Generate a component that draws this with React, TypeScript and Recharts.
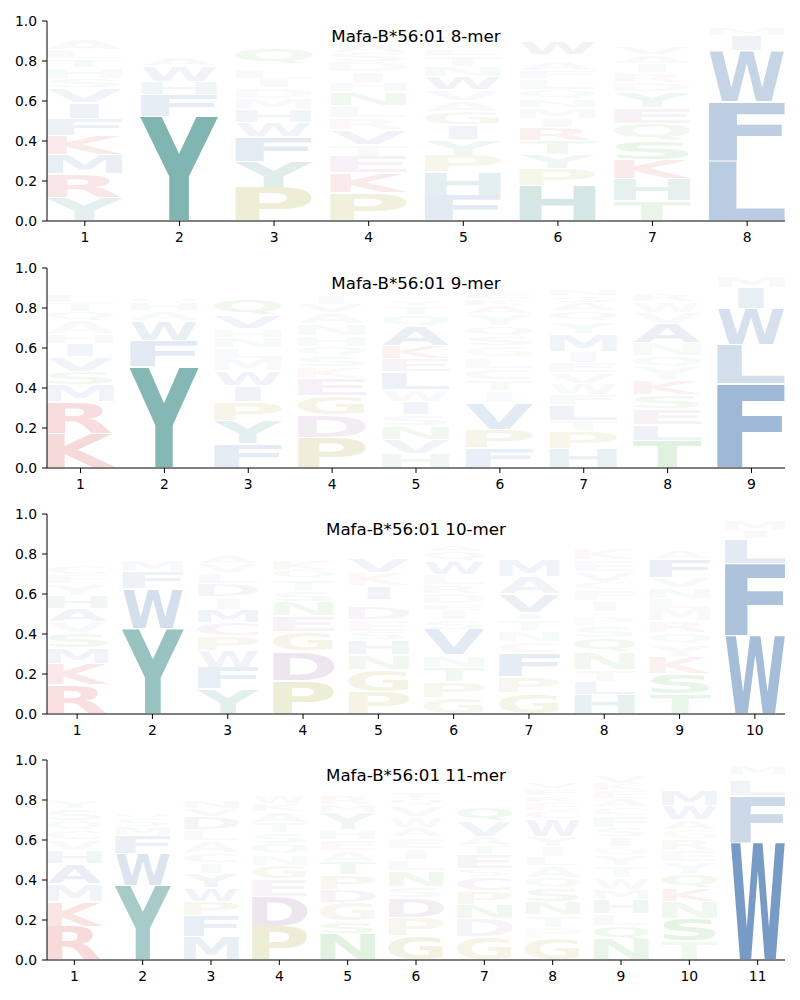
import React from 'react';
import { BarChart, Bar, XAxis, YAxis } from 'recharts';

// letter stacks per position, bottom to top: [letter, height]
const mer8: [string, number][][] = [
  [['Y', .11], ['R', .11], ['M', .09], ['K', .09], ['F', .08], ['I', .075], ['V', .07], ['S', .045], ['H', .05], ['T', .04], ['L', .045], ['A', .05], ['E', .025], ['Q', .02], ['W', .02], ['N', .02]],
  [['Y', .49], ['F', .105], ['H', .06], ['W', .075], ['A', .04], ['Q', .03], ['S', .03], ['N', .025], ['G', .025], ['L', .02], ['T', .02], ['E', .02]],
  [['P', .155], ['Y', .12], ['F', .115], ['W', .065], ['H', .06], ['M', .055], ['D', .05], ['I', .04], ['L', .04], ['S', .03], ['Q', .075], ['V', .03], ['A', .03], ['N', .025], ['E', .02], ['T', .02]],
  [['P', .125], ['K', .09], ['E', .075], ['T', .055], ['V', .065], ['R', .055], ['L', .055], ['N', .06], ['H', .04], ['I', .05], ['D', .045], ['S', .04], ['A', .04], ['Q', .03], ['G', .03], ['F', .025], ['W', .02]],
  [['F', .115], ['H', .105], ['P', .075], ['Y', .07], ['I', .065], ['G', .06], ['A', .05], ['V', .05], ['W', .06], ['N', .045], ['T', .05], ['L', .03], ['Q', .03], ['S', .03], ['E', .025], ['K', .02], ['M', .02]],
  [['H', .165], ['P', .08], ['Y', .065], ['T', .065], ['R', .06], ['I', .045], ['M', .05], ['N', .04], ['Q', .045], ['L', .05], ['F', .035], ['A', .045], ['K', .03], ['W', .06], ['S', .03], ['E', .025], ['V', .025], ['G', .02]],
  [['T', .095], ['H', .105], ['K', .09], ['S', .09], ['Q', .08], ['E', .075], ['Y', .075], ['D', .045], ['R', .045], ['I', .045], ['A', .04], ['V', .035], ['N', .03], ['L', .03], ['W', .025], ['F', .02], ['M', .02]],
  [['L', .29], ['F', .28], ['W', .245], ['I', .075], ['M', .035], ['Y', .02], ['V', .015]],
];

const mer9: [string, number][][] = [
  [['K', .165], ['R', .15], ['M', .08], ['S', .065], ['V', .07], ['I', .065], ['H', .045], ['A', .06], ['Q', .045], ['T', .045], ['L', .04], ['E', .03], ['N', .03], ['F', .025], ['W', .02], ['Y', .02]],
  [['Y', .515], ['F', .135], ['W', .1], ['A', .05], ['H', .04], ['Q', .035], ['N', .03], ['S', .03], ['L', .025], ['M', .02], ['T', .02], ['E', .02]],
  [['F', .115], ['Y', .11], ['P', .09], ['I', .075], ['W', .07], ['M', .06], ['L', .05], ['N', .05], ['H', .04], ['V', .065], ['Q', .08], ['A', .03], ['E', .03], ['S', .025], ['T', .02], ['D', .02], ['G', .02]],
  [['P', .14], ['D', .105], ['G', .09], ['E', .08], ['K', .055], ['S', .05], ['Q', .045], ['H', .05], ['N', .055], ['A', .05], ['V', .04], ['I', .045], ['T', .03], ['L', .03], ['Y', .025], ['F', .02], ['W', .02]],
  [['H', .07], ['V', .07], ['N', .065], ['S', .055], ['I', .065], ['W', .06], ['L', .085], ['E', .065], ['K', .065], ['A', .095], ['Q', .055], ['T', .04], ['Y', .035], ['M', .03], ['F', .03], ['G', .03], ['R', .025], ['D', .02], ['P', .02]],
  [['F', .1], ['P', .09], ['V', .13], ['I', .06], ['T', .055], ['C', .055], ['L', .055], ['G', .055], ['S', .05], ['Q', .05], ['Y', .06], ['A', .04], ['K', .035], ['E', .035], ['N', .03], ['H', .025], ['M', .02], ['W', .02], ['R', .02]],
  [['H', .095], ['P', .085], ['T', .05], ['L', .075], ['F', .05], ['W', .055], ['V', .05], ['E', .05], ['I', .055], ['M', .085], ['Y', .06], ['Q', .05], ['A', .04], ['S', .035], ['N', .035], ['K', .03], ['G', .03], ['R', .02], ['D', .02]],
  [['T', .13], ['L', .075], ['E', .075], ['S', .065], ['K', .07], ['Y', .06], ['Q', .055], ['N', .06], ['A', .09], ['V', .055], ['W', .05], ['R', .035], ['I', .03], ['F', .03], ['H', .025], ['M', .02], ['G', .02]],
  [['F', .405], ['L', .19], ['W', .175], ['I', .1], ['M', .06], ['Y', .02], ['V', .015]],
];

const mer10: [string, number][][] = [
  [['R', .135], ['K', .1], ['M', .075], ['S', .07], ['V', .055], ['A', .06], ['H', .06], ['Y', .055], ['E', .045], ['C', .045], ['T', .03], ['I', .03], ['L', .03], ['Q', .03], ['N', .03], ['F', .025], ['W', .025], ['G', .02], ['D', .02]],
  [['Y', .42], ['W', .195], ['F', .085], ['M', .06], ['Q', .03], ['A', .03], ['H', .03], ['S', .025], ['N', .025], ['L', .025], ['T', .02], ['E', .02], ['G', .02]],
  [['Y', .12], ['F', .105], ['W', .08], ['P', .07], ['C', .065], ['M', .065], ['I', .06], ['D', .065], ['L', .05], ['V', .045], ['A', .04], ['Q', .03], ['E', .03], ['S', .03], ['N', .025], ['H', .025], ['T', .02], ['K', .02], ['R', .02]],
  [['P', .165], ['D', .145], ['G', .095], ['E', .08], ['N', .07], ['S', .055], ['T', .055], ['Q', .045], ['K', .05], ['A', .03], ['H', .03], ['L', .03], ['V', .03], ['I', .025], ['M', .025], ['W', .02], ['F', .02], ['R', .02]],
  [['P', .105], ['G', .105], ['N', .07], ['H', .07], ['S', .04], ['E', .055], ['D', .065], ['A', .03], ['I', .065], ['K', .06], ['V', .07], ['Q', .03], ['T', .03], ['L', .03], ['F', .03], ['W', .025], ['M', .025], ['Y', .02], ['R', .02]],
  [['G', .08], ['P', .075], ['T', .07], ['N', .06], ['V', .125], ['S', .045], ['I', .045], ['E', .035], ['D', .05], ['R', .04], ['L', .05], ['W', .065], ['Q', .045], ['A', .035], ['K', .03], ['H', .03], ['F', .025], ['M', .025], ['Y', .02], ['C', .02]],
  [['G', .105], ['P', .08], ['F', .12], ['C', .055], ['N', .055], ['T', .055], ['I', .035], ['V', .095], ['A', .085], ['M', .085], ['W', .03], ['Q', .03], ['H', .03], ['S', .03], ['L', .025], ['E', .025], ['R', .02], ['K', .02], ['Y', .02]],
  [['H', .09], ['L', .06], ['T', .055], ['N', .08], ['Q', .07], ['S', .055], ['P', .045], ['W', .02], ['I', .05], ['F', .05], ['C', .04], ['V', .045], ['E', .055], ['K', .055], ['A', .03], ['M', .03], ['Y', .03], ['R', .025], ['G', .025], ['D', .02]],
  [['T', .095], ['S', .1], ['K', .08], ['Y', .06], ['Q', .055], ['R', .055], ['M', .06], ['L', .05], ['N', .05], ['V', .05], ['F', .09], ['A', .04], ['E', .03], ['I', .03], ['W', .03], ['H', .025], ['G', .02], ['D', .02], ['P', .02]],
  [['W', .375], ['F', .34], ['L', .12], ['I', .04], ['M', .05], ['Y', .015], ['V', .015]],
];

const mer11: [string, number][][] = [
  [['R', .165], ['K', .125], ['M', .085], ['A', .1], ['H', .065], ['V', .055], ['C', .045], ['Q', .05], ['S', .06], ['Y', .04], ['N', .03], ['I', .03], ['T', .03], ['L', .025], ['E', .025], ['F', .02], ['W', .02], ['G', .02]],
  [['Y', .365], ['W', .16], ['F', .09], ['M', .045], ['S', .04], ['Q', .035], ['A', .03], ['H', .03], ['N', .03], ['L', .03], ['K', .025], ['T', .025], ['E', .025], ['I', .02], ['G', .02], ['V', .02]],
  [['M', .115], ['F', .105], ['P', .07], ['W', .065], ['Y', .07], ['I', .055], ['C', .05], ['A', .06], ['L', .055], ['D', .065], ['V', .04], ['N', .04], ['E', .03], ['S', .03], ['Q', .03], ['H', .025], ['T', .025], ['K', .02], ['R', .02], ['G', .02]],
  [['P', .165], ['D', .15], ['E', .085], ['G', .065], ['N', .055], ['Q', .055], ['S', .055], ['T', .05], ['A', .055], ['K', .04], ['W', .04], ['V', .03], ['I', .03], ['L', .03], ['H', .025], ['M', .02], ['Y', .02], ['F', .02]],
  [['N', .13], ['S', .065], ['G', .095], ['D', .065], ['P', .075], ['T', .065], ['A', .055], ['E', .055], ['H', .055], ['Y', .085], ['M', .04], ['R', .045], ['Q', .03], ['L', .03], ['I', .03], ['V', .025], ['K', .025], ['W', .02], ['F', .02]],
  [['G', .12], ['P', .09], ['D', .095], ['S', .055], ['N', .08], ['L', .055], ['I', .055], ['E', .055], ['A', .045], ['W', .055], ['V', .055], ['Q', .035], ['T', .035], ['K', .03], ['Y', .03], ['H', .025], ['M', .025], ['R', .025], ['F', .02]],
  [['G', .115], ['D', .09], ['N', .07], ['P', .065], ['C', .07], ['S', .04], ['E', .07], ['T', .045], ['A', .045], ['V', .075], ['Q', .07], ['K', .03], ['Y', .03], ['L', .03], ['I', .03], ['H', .025], ['W', .025], ['R', .025], ['M', .02], ['F', .02]],
  [['G', .105], ['P', .055], ['T', .06], ['N', .065], ['S', .065], ['Q', .055], ['A', .055], ['L', .045], ['I', .05], ['Y', .05], ['W', .085], ['C', .04], ['E', .04], ['R', .035], ['F', .035], ['V', .035], ['H', .03], ['K', .03], ['M', .025], ['D', .02]],
  [['N', .095], ['Q', .065], ['L', .055], ['H', .065], ['M', .05], ['W', .055], ['T', .055], ['Y', .05], ['G', .04], ['I', .045], ['S', .045], ['F', .055], ['C', .04], ['A', .04], ['E', .035], ['K', .035], ['V', .035], ['R', .03], ['P', .025], ['D', .02]],
  [['T', .09], ['S', .11], ['N', .085], ['K', .065], ['Q', .07], ['Y', .06], ['E', .055], ['R', .06], ['G', .045], ['A', .045], ['W', .07], ['M', .075], ['I', .03], ['L', .03], ['F', .025], ['H', .025], ['V', .02], ['D', .02]],
  [['W', .57], ['F', .225], ['L', .075], ['I', .03], ['M', .045], ['Y', .015], ['V', .01]],
];

const titles = ['Mafa-B*56:01 8-mer', 'Mafa-B*56:01 9-mer', 'Mafa-B*56:01 10-mer', 'Mafa-B*56:01 11-mer'];
const yTicks = [0, 0.2, 0.4, 0.6, 0.8, 1.0];

const COLORS: Record<string, string> = {
  Y: '#0d736b', H: '#0d736b',
  F: '#1a569d', W: '#1a569d', L: '#1a569d', M: '#1a569d', I: '#1a569d', V: '#1a569d', A: '#1a569d',
  K: '#cc1f1f', R: '#cc1f1f',
  P: '#968c00', G: '#968c00',
  D: '#82508c', E: '#82508c',
  N: '#149614', Q: '#149614', S: '#149614', T: '#149614',
  C: '#b03060',
};

// approximate ink box of DejaVu Sans Bold capitals, in em: [left, right, bottom, top]
const INK: Record<string, number[]> = {
  A: [0.005, 0.77, 0, 0.729], C: [0.055, 0.675, -0.014, 0.743], D: [0.092, 0.77, 0, 0.729],
  E: [0.092, 0.605, 0, 0.729], F: [0.092, 0.6, 0, 0.729], G: [0.055, 0.76, -0.014, 0.743],
  H: [0.092, 0.745, 0, 0.729], I: [0.092, 0.28, 0, 0.729], K: [0.092, 0.79, 0, 0.729],
  L: [0.092, 0.61, 0, 0.729], M: [0.092, 0.903, 0, 0.729], N: [0.092, 0.745, 0, 0.729],
  P: [0.092, 0.69, 0, 0.729], Q: [0.055, 0.795, -0.17, 0.743], R: [0.092, 0.77, 0, 0.729],
  S: [0.06, 0.66, -0.014, 0.743], T: [0.01, 0.672, 0, 0.729], V: [0.005, 0.77, 0, 0.729],
  W: [0.02, 1.082, 0, 0.729], Y: [0.0, 0.724, 0, 0.729],
};

const PLOT_W = 738;
const font = 'DejaVu Sans, sans-serif';

const Glyph = (props: any) => {
  const { x, y, width, height, letter, share } = props;
  if (!letter || !(height > 0.3)) return null;
  const [x0, x1, y0, y1] = INK[letter] || [0.05, 0.7, 0, 0.729];
  const pad = Math.min(0.8, height * 0.15);
  const h = height - 2 * pad;
  const w = letter === 'I' ? width * 0.38 : width;
  const left = x + (width - w) / 2;
  const sx = w / (100 * (x1 - x0));
  const sy = h / (100 * (y1 - y0));
  return (
    <text
      transform={`translate(${left},${y + height - pad}) scale(${sx},${sy}) translate(${-100 * x0},${100 * y0})`}
      fontSize={100}
      fontFamily={font}
      fontWeight="bold"
      fill={COLORS[letter] || '#888'}
      fillOpacity={Math.max(0.005, Math.min(1, share * 1.02 - 0.008))}
    >
      {letter}
    </text>
  );
};

const LogoPanel = ({ cols, title, top }: { cols: [string, number][][]; title: string; top: number }) => {
  const n = cols.length;
  const depth = Math.max(...cols.map(c => c.length));
  const data = cols.map((col, i) => {
    const total = col.reduce((s, [, h]) => s + h, 0);
    const row: any = { pos: i + 1 };
    col.forEach(([l, h], k) => {
      row[`v${k}`] = h / total;
      row[`l${k}`] = l;
    });
    return row;
  });
  const unit = PLOT_W / (n - 0.2);
  const xTicks = cols.map((_, i) => i + 1);
  const layers = Array.from({ length: depth }, (_, k) => k);

  return (
    <div style={{ position: 'absolute', left: 0, top, width: 800, height: 246 }}>
      <BarChart width={800} height={246} data={data} margin={{ top: 21, right: 15, bottom: 0, left: 0 }}>
        <XAxis
          dataKey="pos"
          type="number"
          domain={[0.6, n + 0.4]}
          ticks={xTicks}
          allowDataOverflow
          interval={0}
          height={25}
          stroke="#000"
          tickSize={5}
          tickMargin={6}
          tick={{ fill: '#000', fontSize: 13.9, fontFamily: font }}
        />
        <YAxis
          type="number"
          domain={[0, 1]}
          ticks={yTicks}
          allowDataOverflow
          width={47}
          stroke="#000"
          tickSize={5}
          tickMargin={5}
          tickFormatter={(v: number) => v.toFixed(1)}
          tick={{ fill: '#000', fontSize: 13.9, fontFamily: font }}
        />
        {layers.map(k => (
          <Bar
            key={k}
            dataKey={`v${k}`}
            stackId="logo"
            barSize={unit * 0.8}
            isAnimationActive={false}
            shape={(p: any) => <Glyph {...p} letter={p.payload[`l${k}`]} share={p.payload[`v${k}`] || 0} />}
          />
        ))}
      </BarChart>
      <div
        style={{
          position: 'absolute', left: 47, top: 25.5, width: PLOT_W, textAlign: 'center',
          fontFamily: font, fontSize: 16.7, color: '#000', pointerEvents: 'none',
        }}
      >
        {title}
      </div>
    </div>
  );
};

export default function App() {
  const panels = [mer8, mer9, mer10, mer11];
  const tops = [0, 247, 493, 739];
  return (
    <div style={{ position: 'absolute', left: 0, top: 0, width: 800, height: 1000, background: '#fff' }}>
      {panels.map((cols, i) => (
        <LogoPanel key={i} cols={cols} title={titles[i]} top={tops[i]} />
      ))}
    </div>
  );
}
